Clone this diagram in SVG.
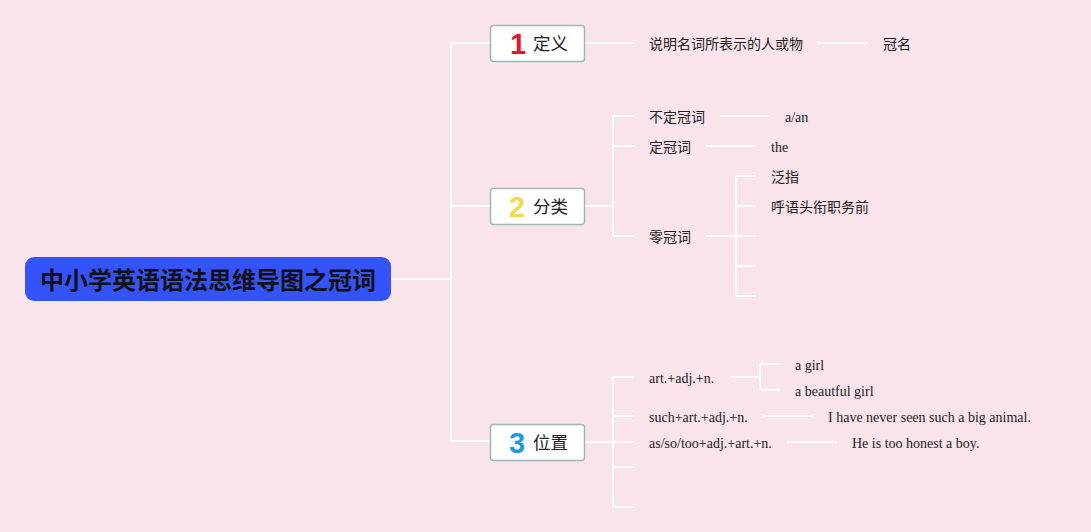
<svg xmlns="http://www.w3.org/2000/svg" width="1091" height="532" viewBox="0 0 1091 532">
<style>
.ln{stroke:#ffffff;stroke-width:2;fill:none}
.box{fill:#ffffff;stroke:#9bb9b2;stroke-width:1.5}
.cn{font-family:"Noto Sans CJK SC","Noto Sans",sans-serif;font-size:14px;fill:#222222}
.en{font-family:"Liberation Serif","Noto Sans CJK SC",serif;font-size:14px;fill:#222222}
.bt{font-family:"Noto Sans CJK SC",sans-serif;font-size:17.5px;fill:#222222}
.num{font-family:"Liberation Sans",sans-serif;font-weight:bold;font-size:29px}
</style>
<rect width="1091" height="532" fill="#fae4ec"/>
<g id="connectors">
<path class="ln" d="M391 279H451M451 43V441M451 43H490M451 206H490M451 441H490"/>
<path class="ln" d="M584 43H634M818 43H868"/>
<path class="ln" d="M584 206H613M613 116V236M613 116H634M613 146H634M613 236H634"/>
<path class="ln" d="M720 116H770M706 146H756M706 236H736M736 176V296M736 176H756M736 206H756M736 236H756M736 266H756M736 296H756"/>
<path class="ln" d="M584 442H613M613 377V507M613 377H634M613 416H634M613 442H634M613 467H634M613 507H634"/>
<path class="ln" d="M730 377H760M760 364V390M760 364H780M760 390H780M763 416H813M787 442H837"/>
</g>
<g id="root">
<rect x="25" y="257" width="366" height="44" rx="9" fill="#3553fa"/>
<text x="208" y="289" text-anchor="middle" font-family="Noto Sans CJK SC,sans-serif" font-weight="bold" font-size="24" fill="#111111">中小学英语语法思维导图之冠词</text>
</g>
<g id="n1">
<rect class="box" x="490.5" y="25.5" width="94" height="36" rx="3"/>
<text class="num" x="510" y="54" fill="#e0192f">1</text>
<text class="bt" x="533" y="50">定义</text>
</g>
<g id="n2">
<rect class="box" x="490.5" y="188.5" width="94" height="36" rx="3"/>
<text class="num" x="509" y="217" fill="#f3d84c">2</text>
<text class="bt" x="533" y="213">分类</text>
</g>
<g id="n3">
<rect class="box" x="490.5" y="424.5" width="94" height="36" rx="3"/>
<text class="num" x="509" y="453" fill="#1f9ade">3</text>
<text class="bt" x="533" y="449">位置</text>
</g>
<g id="n1-children">
<text class="cn" x="649" y="49">说明名词所表示的人或物</text>
<text class="cn" x="883" y="49">冠名</text>
</g>
<g id="n2-children">
<text class="cn" x="649" y="122">不定冠词</text>
<text class="en" x="785" y="122">a/an</text>
<text class="cn" x="649" y="152">定冠词</text>
<text class="en" x="771" y="152">the</text>
<text class="cn" x="649" y="242">零冠词</text>
<text class="cn" x="771" y="182">泛指</text>
<text class="cn" x="771" y="212">呼语头衔职务前</text>
</g>
<g id="n3-children">
<text class="en" x="649" y="383">art.+adj.+n.</text>
<text class="en" x="795" y="370">a girl</text>
<text class="en" x="795" y="396">a beautful girl</text>
<text class="en" x="649" y="422">such+art.+adj.+n.</text>
<text class="en" x="828" y="422">I have never seen such a big animal.</text>
<text class="en" x="649" y="448">as/so/too+adj.+art.+n.</text>
<text class="en" x="852" y="448">He is too honest a boy.</text>
</g>
</svg>
